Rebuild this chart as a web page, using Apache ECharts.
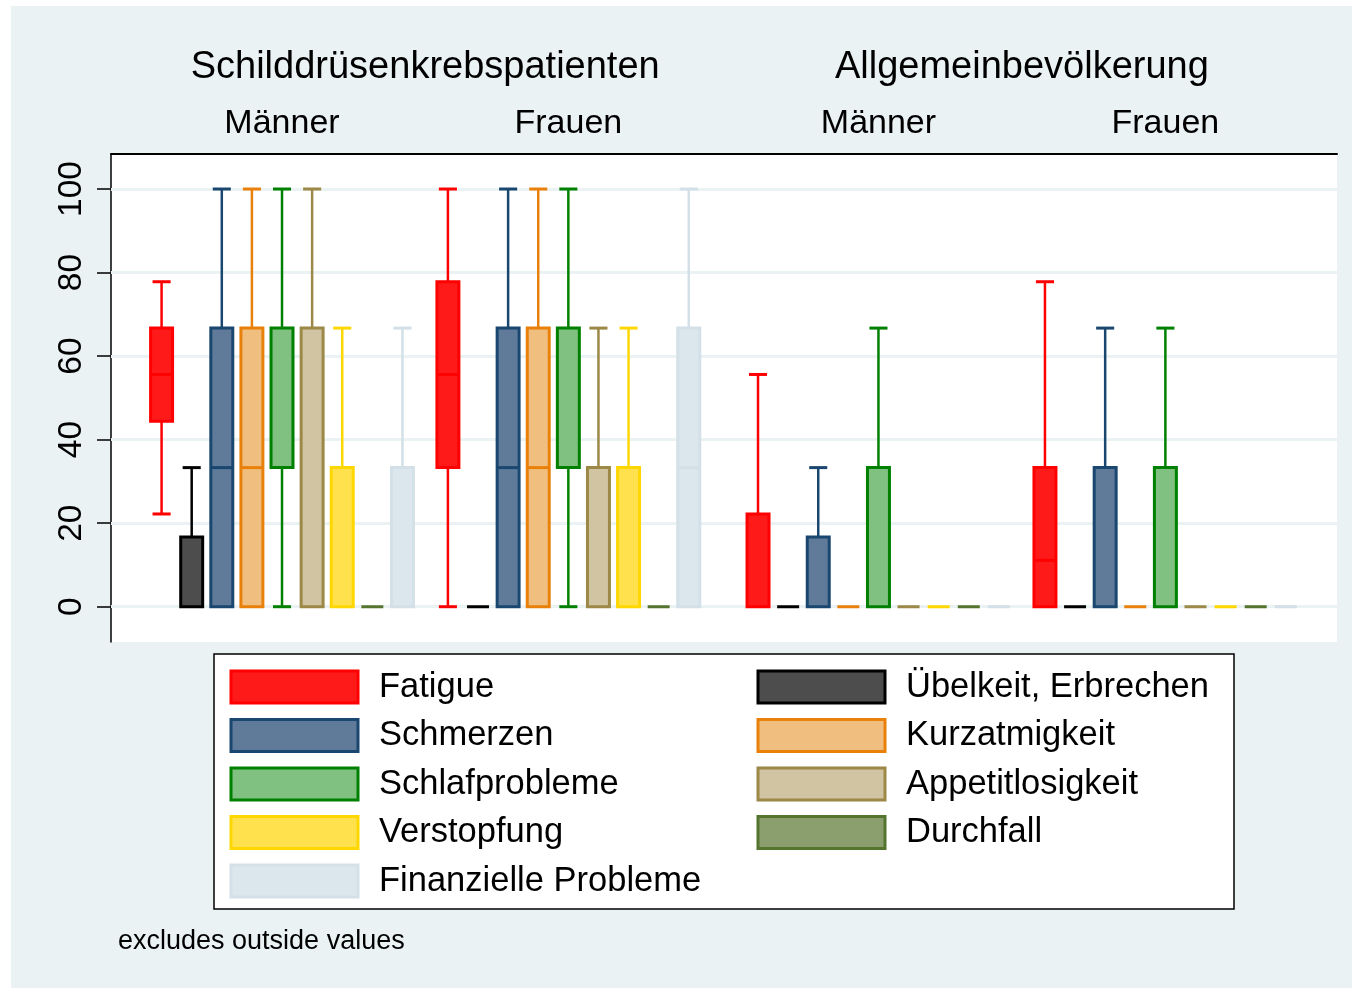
<!DOCTYPE html>
<html>
<head>
<meta charset="utf-8">
<script src="https://cdn.jsdelivr.net/npm/echarts@6/dist/echarts.min.js"></script>
<style>
html, body { margin: 0; padding: 0; background: #fff; }
#chart { width: 1352px; height: 988px; }
</style>
</head>
<body>
<div id="chart"></div>
<script>
// data: each row is one group, values are [min, q1, median, q3, max] (outside values excluded)
var cohorts = ['Schilddrüsenkrebspatienten', 'Allgemeinbevölkerung'];
var groups = ['Männer', 'Frauen', 'Männer', 'Frauen'];
var symptoms = ['Fatigue', 'Übelkeit, Erbrechen', 'Schmerzen', 'Kurzatmigkeit', 'Schlafprobleme',
    'Appetitlosigkeit', 'Verstopfung', 'Durchfall', 'Finanzielle Probleme'];
var fatigue = [[22.2, 44.4, 55.6, 66.7, 77.8], [0, 33.3, 55.6, 77.8, 100], [0, 0, 0, 22.2, 55.6], [0, 0, 11.1, 33.3, 77.8]];
var nausea = [[0, 0, 0, 16.7, 33.3], [0, 0, 0, 0, 0], [0, 0, 0, 0, 0], [0, 0, 0, 0, 0]];
var pain = [[0, 0, 33.3, 66.7, 100], [0, 0, 33.3, 66.7, 100], [0, 0, 0, 16.7, 33.3], [0, 0, 0, 33.3, 66.7]];
var dyspnoea = [[0, 0, 33.3, 66.7, 100], [0, 0, 33.3, 66.7, 100], [0, 0, 0, 0, 0], [0, 0, 0, 0, 0]];
var insomnia = [[0, 33.3, 33.3, 66.7, 100], [0, 33.3, 33.3, 66.7, 100], [0, 0, 0, 33.3, 66.7], [0, 0, 0, 33.3, 66.7]];
var appetite = [[0, 0, 0, 66.7, 100], [0, 0, 0, 33.3, 66.7], [0, 0, 0, 0, 0], [0, 0, 0, 0, 0]];
var constipation = [[0, 0, 0, 33.3, 66.7], [0, 0, 0, 33.3, 66.7], [0, 0, 0, 0, 0], [0, 0, 0, 0, 0]];
var diarrhoea = [[0, 0, 0, 0, 0], [0, 0, 0, 0, 0], [0, 0, 0, 0, 0], [0, 0, 0, 0, 0]];
var financial = [[0, 0, 0, 33.3, 66.7], [0, 0, 33.3, 66.7, 100], [0, 0, 0, 0, 0], [0, 0, 0, 0, 0]];
var yTicks = [0, 20, 40, 60, 80, 100];

var boxData = [fatigue, nausea, pain, dyspnoea, insomnia, appetite, constipation, diarrhoea, financial];

// styles
var fillColors = ['#ff1a1a', '#4d4d4d', '#5f7b99', '#f0bf80', '#80c080', '#d0c4a3', '#ffe04d', '#8a9e6e', '#dce7ed'];
var lineColors = ['#ff0000', '#000000', '#1a476f', '#e8800a', '#008000', '#9c8847', '#ffd700', '#55752f', '#d3e0e7'];
var FONT = '"Liberation Sans", Arial, Helvetica, sans-serif';

// x axis is measured in box slots, groups start at these slots (gap between the over() groups)
var groupStart = [1.68, 11.19, 21.49, 31.02];
var X_MAX = 40.72;
var BOX_W = 0.73, CAP_W = 0.6;

var groupCenters = groupStart.map(function (s) { return s + (symptoms.length - 1) / 2; });
var cohortCenters = [(groupCenters[0] + groupCenters[1]) / 2, (groupCenters[2] + groupCenters[3]) / 2];

function renderBox(params, api) {
    var v = [api.value(1), api.value(2), api.value(3), api.value(4), api.value(5)];
    var x = api.value(0);
    var pLo = api.coord([x, v[0]]);
    var pQ1 = api.coord([x, v[1]]);
    var pMed = api.coord([x, v[2]]);
    var pQ3 = api.coord([x, v[3]]);
    var pHi = api.coord([x, v[4]]);
    var bw = api.size([BOX_W, 0])[0];
    var cw = api.size([CAP_W, 0])[0];
    var cx = pQ1[0];
    var stroke = lineColors[params.seriesIndex];
    var children = [];
    function seg(x1, y1, x2, y2, w) {
        children.push({ type: 'line', shape: { x1: x1, y1: y1, x2: x2, y2: y2 }, style: { stroke: stroke, lineWidth: w } });
    }
    if (v[4] > v[3]) { // upper whisker
        seg(cx, pQ3[1], cx, pHi[1], 2.5);
        seg(cx - cw / 2, pHi[1], cx + cw / 2, pHi[1], 3);
    }
    if (v[0] < v[1]) { // lower whisker
        seg(cx, pQ1[1], cx, pLo[1], 2.5);
        seg(cx - cw / 2, pLo[1], cx + cw / 2, pLo[1], 3);
    }
    children.push({
        type: 'rect',
        shape: { x: cx - bw / 2, y: pQ3[1], width: bw, height: pQ1[1] - pQ3[1] },
        style: { fill: fillColors[params.seriesIndex], stroke: stroke, lineWidth: 3 }
    });
    if (v[2] > v[1] && v[2] < v[3]) {
        seg(cx - bw / 2, pMed[1], cx + bw / 2, pMed[1], 3);
    }
    return { type: 'group', children: children };
}

function legendItems(idx) {
    return idx.map(function (i) {
        return {
            name: symptoms[i],
            icon: 'rect',
            itemStyle: { color: fillColors[i], borderColor: lineColors[i], borderWidth: 3 }
        };
    });
}

var series = symptoms.map(function (name, i) {
    return {
        name: name,
        type: 'custom',
        z: 10,
        renderItem: renderBox,
        itemStyle: { color: fillColors[i], borderColor: lineColors[i], borderWidth: 3 },
        encode: { x: 0, y: [1, 2, 3, 4, 5] },
        data: boxData[i].map(function (row, g) {
            return [groupStart[g] + i].concat(row);
        }),
        silent: true
    };
});
// grid lines
series.push({
    type: 'line',
    data: [],
    silent: true,
    markLine: {
        silent: true,
        symbol: 'none',
        label: { show: false },
        lineStyle: { color: '#eaf2f3', width: 3, type: 'solid' },
        data: yTicks.map(function (t) { return { yAxis: t }; })
    }
});

var legendBase = {
    orient: 'vertical',
    top: 669.5,
    padding: 0,
    itemWidth: 127,
    itemHeight: 32,
    itemGap: 13.5,
    selectedMode: false,
    textStyle: { fontSize: 34.5, color: '#000', fontFamily: FONT, padding: [0, 0, 0, 16] }
};

var myChart = echarts.init(document.getElementById('chart'));
var option = {
    backgroundColor: '#fff',
    animation: false,
    graphic: [
        { type: 'rect', z: -10, silent: true, shape: { x: 11, y: 6, width: 1341, height: 982 }, style: { fill: '#eaf2f3' } },
        { type: 'rect', z: -5, silent: true, shape: { x: 214, y: 654, width: 1020, height: 255 }, style: { fill: '#fff', stroke: '#000', lineWidth: 1.5 } }
    ],
    title: {
        text: 'excludes outside values',
        left: 118,
        top: 928,
        padding: 0,
        textStyle: { fontSize: 27, fontWeight: 'normal', color: '#000', fontFamily: FONT }
    },
    grid: {
        left: 111, top: 154, width: 1226, height: 488,
        show: true, backgroundColor: '#fff', borderWidth: 0
    },
    xAxis: [{
        type: 'value',
        position: 'top',
        min: 0,
        max: X_MAX,
        axisLine: { show: true, onZero: false, lineStyle: { color: '#000', width: 2 } },
        axisTick: { show: false },
        splitLine: { show: false },
        axisLabel: {
            customValues: groupCenters,
            margin: 13,
            fontSize: 34,
            color: '#000',
            fontFamily: FONT,
            formatter: function (v) { return groups[groupCenters.indexOf(v)]; }
        }
    }, {
        type: 'value',
        position: 'top',
        min: 0,
        max: X_MAX,
        axisLine: { show: false, onZero: false },
        axisTick: { show: false },
        splitLine: { show: false },
        axisLabel: {
            customValues: cohortCenters,
            margin: 67,
            fontSize: 38,
            color: '#000',
            fontFamily: FONT,
            formatter: function (v) { return cohorts[cohortCenters.indexOf(v)]; }
        }
    }],
    yAxis: {
        type: 'value',
        min: -8.45,
        max: 108.38,
        axisLine: { show: true, onZero: false, lineStyle: { color: '#000', width: 1.5 } },
        axisTick: { show: true, customValues: yTicks, length: 14, lineStyle: { color: '#000', width: 1.5 } },
        splitLine: { show: false },
        axisLabel: {
            customValues: yTicks,
            rotate: 90,
            margin: 22,
            fontSize: 33.5,
            color: '#000',
            fontFamily: FONT
        }
    },
    legend: [
        Object.assign({}, legendBase, { left: 229.5, data: legendItems([0, 2, 4, 6, 8]) }),
        Object.assign({}, legendBase, { left: 756.5, data: legendItems([1, 3, 5, 7]) })
    ],
    series: series
};
myChart.setOption(option);
</script>
</body>
</html>
